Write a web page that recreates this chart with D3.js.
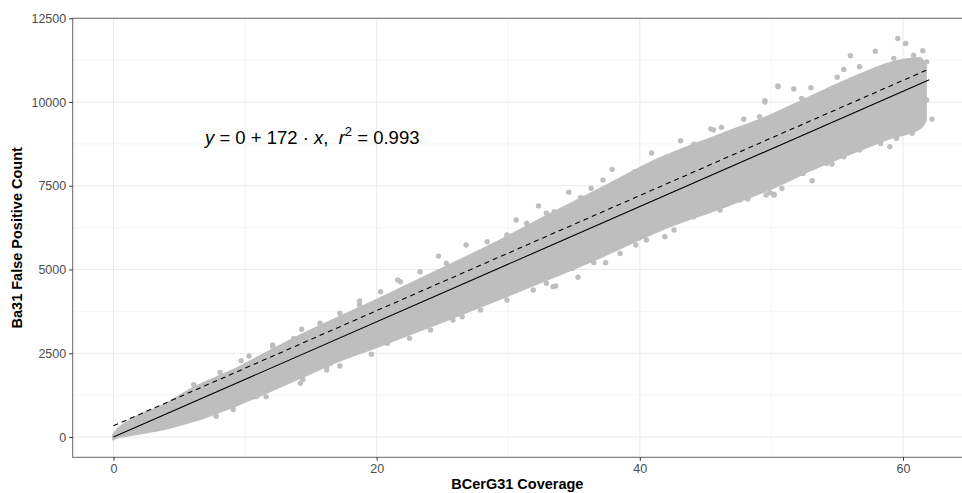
<!DOCTYPE html>
<html>
<head>
<meta charset="utf-8">
<script src="https://cdn.jsdelivr.net/npm/d3@7"></script>
<style>
  body { margin: 0; background: #fff; }
  svg { display: block; font-family: "Liberation Sans", Arial, sans-serif; }
</style>
</head>
<body>
<div id="chart"></div>
<script>
// cloud core envelope: coverage -> lower / upper false positive count
const cloudX     = [0, 0.4, 1, 2, 3.5, 6, 9.6, 12, 14.5, 16.7, 20, 24.8, 29, 33, 37, 41.5, 46, 50, 53, 56.7, 59, 61.3, 61.7]
const cloudUpper = [60, 250, 420, 640, 880, 1440, 2080, 2580, 3080, 3480, 4080, 4980, 5780, 6600, 7400, 8300, 9000, 9600, 10150, 10800, 11150, 11300, 11100]
const cloudLower = [-60, 10, 50, 120, 220, 480, 1000, 1400, 1830, 2220, 2700, 3420, 4080, 4720, 5380, 6180, 6830, 7430, 7980, 8580, 8930, 9230, 9450]

// points along the ragged edge of the cloud
const strayX = [59.6, 60.2, 56.0, 57.9, 50.5, 49.5, 62.2, 60.7, 59.0, 53.1, 50.2, 50.8, 53.0, 61.5, 54.6,
                49.5, 50.5, 37.9, 34.6, 40.9, 43.1, 45.4, 46.2, 35.3, 33.6, 37.4, 41.9, 48.2, 50.2, 39.7,
                32.3, 24.7, 21.6, 18.7, 17.2, 19.6, 26.5, 33.4, 30.6, 16.2,
                10.3, 12.1, 14.3, 10.8, 14.4, 9.7, 10.9,
                51.7, 52.3, 55.0, 55.5, 56.7, 57.4, 59.3, 60.8, 61.8, 61.8, 61.0, 59.5, 58.3, 56.7, 55.5, 54.2, 52.4, 51.5, 49.9, 50.9,
                37.2, 36.3, 35.5, 33.5, 39.6, 42.0, 44.1, 45.6, 47.9, 49.1,
                32.9, 34.9, 36.5, 38.5, 40.5, 42.6, 44.1, 46.1, 47.6, 49.6,
                17.2, 18.7, 20.3, 21.8, 23.3, 25.3, 26.8, 28.4, 29.9, 31.4, 32.9,
                16.5, 18.2, 20.8, 22.5, 24.1, 25.8, 27.9, 29.9, 31.9,
                6.1, 8.1, 12.1, 13.7, 15.7,
                7.8, 9.1, 11.6, 14.2, 16.2]
const strayY = [11900, 11750, 11380, 11520, 10460, 10040, 9490, 9065, 8670, 7650, 7220, 7420, 10430, 11530, 8150,
                10000, 10480, 7990, 7310, 8480, 8845, 9195, 9245, 4770, 4510, 5200, 5980, 7105, 7245, 5730,
                6900, 5400, 4690, 4060, 2120, 2470, 3590, 4490, 6480, 2100,
                2420, 2750, 3215, 1205, 1720, 2280, 1225,
                10390, 10110, 10740, 10975, 11055, 10855, 11305, 11400, 11200, 10060, 9365, 8915, 8765, 8565, 8365, 8170, 7870, 7820, 7295, 7670,
                7670, 7425, 7145, 6725, 7920, 8350, 8745, 9165, 9485, 9565,
                4590, 5035, 5205, 5480, 5880, 6180, 6575, 6775, 7075, 7225,
                3695, 3940, 4335, 4635, 4935, 5185, 5730, 5830, 6030, 6380, 6680,
                2200, 2500, 2795, 2945, 3195, 3495, 3790, 4090, 4390,
                1560, 1930, 2695, 2945, 3395,
                620, 820, 1205, 1605, 2000]

// fitted line and the dashed offset line
const fitX = [0, 62]
const fitY = [0, 10664]
const dashY = [335, 10990]

const xTicks = [0, 20, 40, 60]
const xMinor = [10, 30, 50]
const yTicks = [0, 2500, 5000, 7500, 10000, 12500]
const yMinor = [1250, 3750, 6250, 8750, 11250]

const W = 962, H = 493
const panel = { left: 72.7, right: 970.1, top: 18.3, bottom: 457.3 }

const svg = d3.select("#chart").append("svg")
    .attr("width", W)
    .attr("height", H)

const x = d3.scaleLinear().domain([-3.1, 65.1]).range([panel.left, panel.right])
const y = d3.scaleLinear().domain([-606, 12500]).range([panel.bottom, panel.top])

svg.append("clipPath").attr("id", "clip")
    .append("rect")
    .attr("x", panel.left).attr("y", panel.top)
    .attr("width", panel.right - panel.left).attr("height", panel.bottom - panel.top)

// grid
const grid = svg.append("g")
grid.selectAll(".vminor").data(xMinor).enter().append("line")
    .attr("x1", d => x(d)).attr("x2", d => x(d))
    .attr("y1", panel.top).attr("y2", panel.bottom)
    .attr("stroke", "#f0f0f0").attr("stroke-width", 0.6)
grid.selectAll(".hminor").data(yMinor).enter().append("line")
    .attr("y1", d => y(d)).attr("y2", d => y(d))
    .attr("x1", panel.left).attr("x2", panel.right)
    .attr("stroke", "#f0f0f0").attr("stroke-width", 0.6)
grid.selectAll(".vmajor").data(xTicks).enter().append("line")
    .attr("x1", d => x(d)).attr("x2", d => x(d))
    .attr("y1", panel.top).attr("y2", panel.bottom)
    .attr("stroke", "#ebebeb").attr("stroke-width", 1.1)
grid.selectAll(".hmajor").data(yTicks).enter().append("line")
    .attr("y1", d => y(d)).attr("y2", d => y(d))
    .attr("x1", panel.left).attr("x2", panel.right)
    .attr("stroke", "#ebebeb").attr("stroke-width", 1.1)

// the point cloud
const plot = svg.append("g").attr("clip-path", "url(#clip)")
const cloud = cloudX.map((d, i) => ({ x: d, lo: cloudLower[i], hi: cloudUpper[i] }))
plot.append("path")
    .datum(cloud)
    .attr("d", d3.area()
        .x(d => x(d.x))
        .y0(d => y(d.lo))
        .y1(d => y(d.hi))
        .curve(d3.curveMonotoneX))
    .attr("fill", "#bebebe")
    .attr("stroke", "#bebebe")
    .attr("stroke-width", 3)
    .attr("stroke-linejoin", "round")

plot.selectAll("circle")
    .data(strayX.map((d, i) => [d, strayY[i]]))
    .enter().append("circle")
    .attr("cx", d => x(d[0]))
    .attr("cy", d => y(d[1]))
    .attr("r", 2.7)
    .attr("fill", "#bebebe")

// lines
plot.append("line")
    .attr("x1", x(fitX[0])).attr("y1", y(fitY[0]))
    .attr("x2", x(fitX[1])).attr("y2", y(fitY[1]))
    .attr("stroke", "#000").attr("stroke-width", 1.1)
plot.append("line")
    .attr("x1", x(fitX[0])).attr("y1", y(dashY[0]))
    .attr("x2", x(fitX[1])).attr("y2", y(dashY[1]))
    .attr("stroke", "#000").attr("stroke-width", 1.1)
    .attr("stroke-dasharray", "5,4")

// panel border
svg.append("rect")
    .attr("x", panel.left).attr("y", panel.top)
    .attr("width", panel.right - panel.left).attr("height", panel.bottom - panel.top)
    .attr("fill", "none").attr("stroke", "#666").attr("stroke-width", 1)

// axes
const xAxis = svg.append("g")
    .attr("transform", "translate(0," + panel.bottom + ")")
    .call(d3.axisBottom(x).tickValues(xTicks).tickSize(3.5).tickPadding(3).tickFormat(d3.format("d")))
const yAxis = svg.append("g")
    .attr("transform", "translate(" + panel.left + ",0)")
    .call(d3.axisLeft(y).tickValues(yTicks).tickSize(3.5).tickPadding(3).tickFormat(d3.format("d")))
;[xAxis, yAxis].forEach(a => {
    a.select(".domain").remove()
    a.selectAll(".tick line").attr("stroke", "#333")
    a.selectAll(".tick text")
        .attr("fill", "#4d4d4d")
        .style("font-size", "12.5px")
        .style("font-family", "'Liberation Sans', Arial, sans-serif")
})

// axis titles
svg.append("text")
    .attr("x", (panel.left + 962) / 2)
    .attr("y", 489)
    .attr("text-anchor", "middle")
    .style("font-size", "14.5px")
    .style("font-weight", "bold")
    .text("BCerG31 Coverage")
svg.append("text")
    .attr("transform", "translate(22," + ((panel.top + panel.bottom) / 2) + ") rotate(-90)")
    .attr("text-anchor", "middle")
    .style("font-size", "14.5px")
    .style("font-weight", "bold")
    .text("Ba31 False Positive Count")

// equation label
const eq = svg.append("text")
    .attr("x", 205)
    .attr("y", 144)
    .style("font-size", "18.5px")
eq.append("tspan").style("font-style", "italic").text("y")
eq.append("tspan").text(" = 0 + 172 \u00b7 ")
eq.append("tspan").style("font-style", "italic").text("x")
eq.append("tspan").text(",\u00a0\u00a0")
eq.append("tspan").style("font-style", "italic").text("r")
eq.append("tspan").attr("dy", -8).style("font-size", "13px").text("2")
eq.append("tspan").attr("dy", 8).text(" = 0.993")
</script>
</body>
</html>
